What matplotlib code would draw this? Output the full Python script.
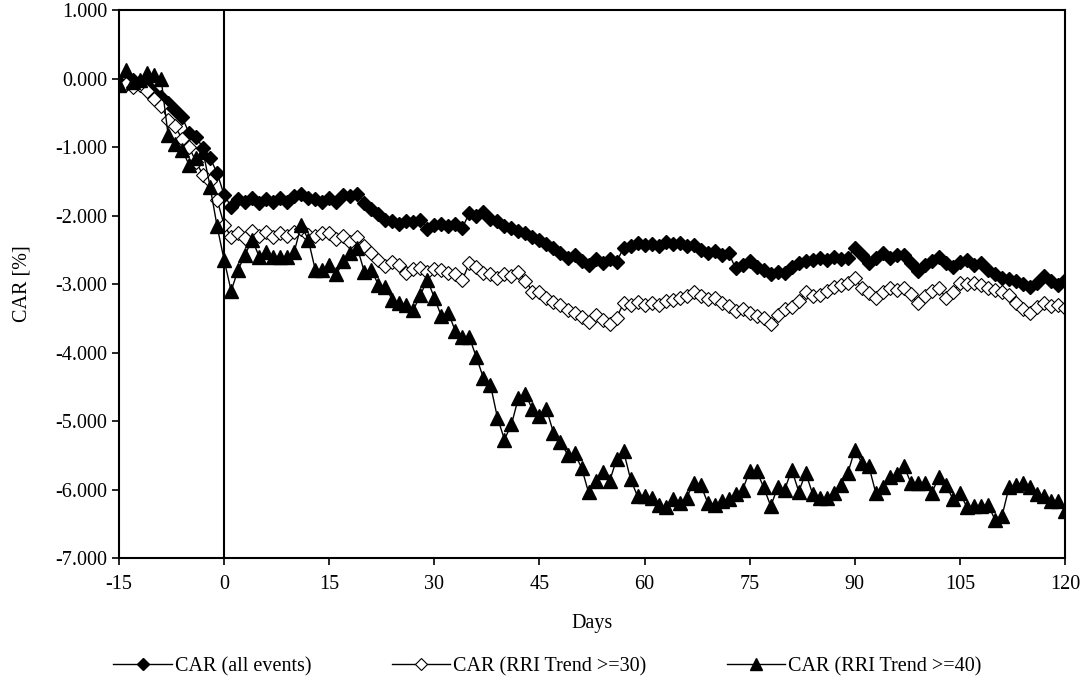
import numpy as np
import matplotlib
matplotlib.use("Agg")
import matplotlib.pyplot as plt

plt.rcParams["font.family"] = ["Liberation Serif", "DejaVu Serif"]
plt.rcParams["font.size"] = 14.5
plt.rcParams["axes.unicode_minus"] = False

days = list(range(-15, 121))

car_all = [
    -0.05, -0.08, -0.02, -0.05, -0.10, -0.21, -0.27, -0.35, -0.46, -0.56,
    -0.80, -0.85, -1.02, -1.16, -1.38, -1.70, -1.87, -1.76, -1.80, -1.74,
    -1.82, -1.76, -1.80, -1.74, -1.80, -1.72, -1.68, -1.74, -1.76, -1.80,
    -1.74, -1.80, -1.70, -1.72, -1.68, -1.82, -1.90, -1.98, -2.06, -2.08,
    -2.12, -2.08, -2.10, -2.06, -2.20, -2.14, -2.12, -2.16, -2.12, -2.18,
    -1.96, -2.00, -1.95, -2.05, -2.08, -2.15, -2.18, -2.22, -2.26, -2.32,
    -2.36, -2.42, -2.48, -2.54, -2.62, -2.58, -2.66, -2.72, -2.64, -2.70,
    -2.64, -2.68, -2.47, -2.44, -2.40, -2.43, -2.41, -2.44, -2.38, -2.42,
    -2.40, -2.44, -2.43, -2.50, -2.55, -2.52, -2.57, -2.55, -2.77, -2.72,
    -2.67, -2.75, -2.80, -2.86, -2.82, -2.84, -2.75, -2.70, -2.67, -2.65,
    -2.62, -2.65, -2.60, -2.64, -2.62, -2.47, -2.58, -2.69, -2.62, -2.55,
    -2.62, -2.58, -2.57, -2.70, -2.81, -2.72, -2.66, -2.60, -2.70, -2.75,
    -2.68, -2.65, -2.72, -2.69, -2.80, -2.86, -2.91, -2.93, -2.96, -3.00,
    -3.05, -2.98, -2.89, -2.96, -3.01, -2.94,
]

car_rri30 = [
    -0.10, -0.08, -0.12, -0.10, -0.18, -0.30, -0.40, -0.60, -0.70, -0.88,
    -1.00, -1.22, -1.41, -1.50, -1.77, -2.14, -2.31, -2.25, -2.33, -2.22,
    -2.30, -2.24, -2.32, -2.26, -2.30, -2.24, -2.20, -2.28, -2.30, -2.26,
    -2.25, -2.34, -2.30, -2.38, -2.31, -2.45, -2.55, -2.65, -2.74, -2.68,
    -2.72, -2.84, -2.78, -2.77, -2.82, -2.78, -2.79, -2.84, -2.86, -2.94,
    -2.69, -2.75, -2.84, -2.86, -2.91, -2.85, -2.88, -2.82, -2.95, -3.11,
    -3.12, -3.20, -3.26, -3.30, -3.38, -3.42, -3.48, -3.55, -3.45, -3.52,
    -3.59, -3.49, -3.28, -3.30, -3.26, -3.30, -3.28, -3.31, -3.25, -3.23,
    -3.20, -3.18, -3.11, -3.18, -3.22, -3.20, -3.28, -3.32, -3.40, -3.36,
    -3.42, -3.46, -3.50, -3.59, -3.45, -3.37, -3.33, -3.25, -3.11, -3.18,
    -3.16, -3.10, -3.05, -3.01, -2.98, -2.91, -3.06, -3.13, -3.20, -3.12,
    -3.06, -3.08, -3.06, -3.15, -3.28, -3.18, -3.10, -3.06, -3.20, -3.12,
    -2.98, -3.00, -2.98, -3.02, -3.06, -3.08, -3.12, -3.16, -3.28, -3.36,
    -3.42, -3.33, -3.28, -3.32, -3.30, -3.35,
]

car_rri40 = [
    -0.10, 0.12, -0.05, -0.02, 0.08, 0.05, 0.00, -0.82, -0.95, -1.04,
    -1.26, -1.16, -1.07, -1.58, -2.16, -2.65, -3.10, -2.79, -2.57, -2.35,
    -2.60, -2.53, -2.60, -2.60, -2.60, -2.53, -2.14, -2.35, -2.79, -2.79,
    -2.72, -2.86, -2.67, -2.55, -2.47, -2.82, -2.79, -3.01, -3.04, -3.23,
    -3.28, -3.30, -3.38, -3.16, -2.94, -3.20, -3.47, -3.42, -3.69, -3.78,
    -3.78, -4.07, -4.37, -4.47, -4.95, -5.27, -5.05, -4.66, -4.61, -4.83,
    -4.93, -4.83, -5.17, -5.30, -5.49, -5.47, -5.68, -6.04, -5.88, -5.74,
    -5.88, -5.56, -5.44, -5.85, -6.10, -6.10, -6.12, -6.22, -6.26, -6.14,
    -6.19, -6.12, -5.90, -5.93, -6.19, -6.22, -6.17, -6.14, -6.07, -6.00,
    -5.73, -5.73, -5.97, -6.24, -5.97, -6.00, -5.71, -6.03, -5.76, -6.07,
    -6.12, -6.12, -6.05, -5.93, -5.76, -5.42, -5.61, -5.66, -6.05, -5.97,
    -5.82, -5.78, -5.66, -5.90, -5.90, -5.90, -6.05, -5.81, -5.93, -6.14,
    -6.05, -6.26, -6.24, -6.24, -6.22, -6.44, -6.39, -5.97, -5.93, -5.90,
    -5.97, -6.07, -6.10, -6.17, -6.17, -6.32,
]

x_ticks = list(range(-15, 121, 15))
y_ticks = list(range(-7, 2))

fig = plt.figure(figsize=(10.86, 6.92), dpi=100)
ax = fig.add_axes([0.1096, 0.1936, 0.8711, 0.7919])

ax.plot(days, car_all, color="black", lw=1, marker="D", ms=7.5,
        mfc="black", mec="black", label="CAR (all events)")
ax.plot(days, car_rri30, color="black", lw=1, marker="D", ms=7.5,
        mfc="white", mec="black", mew=0.8, label="CAR (RRI Trend >=30)")
ax.plot(days, car_rri40, color="black", lw=1, marker="^", ms=10,
        mfc="black", mec="black", label="CAR (RRI Trend >=40)")

ax.axvline(0, color="black", lw=1.5)

ax.set_xlim(-15, 120)
ax.set_ylim(-7, 1)
ax.set_xticks(x_ticks)
ax.set_yticks(y_ticks)
ax.set_yticklabels([f"{v:.3f}" for v in y_ticks])
ax.tick_params(direction="out", length=5, width=1.2, labelsize=14.5)
ax.tick_params(axis="x", pad=7)
for sp in ax.spines.values():
    sp.set_linewidth(1.5)

ax.set_xlabel("Days", fontsize=14.5)
ax.set_ylabel("CAR [%]", fontsize=14.5)
ax.xaxis.set_label_coords(0.5, -0.102)
ax.yaxis.set_label_coords(-0.093, 0.5)

ax.legend(loc="center", bbox_to_anchor=(0.453, -0.198), ncol=3,
          frameon=False, fontsize=14.5, handlelength=2.9, columnspacing=4.0,
          handletextpad=0.15, markerscale=0.8)

fig.savefig("out.png", dpi=100)
